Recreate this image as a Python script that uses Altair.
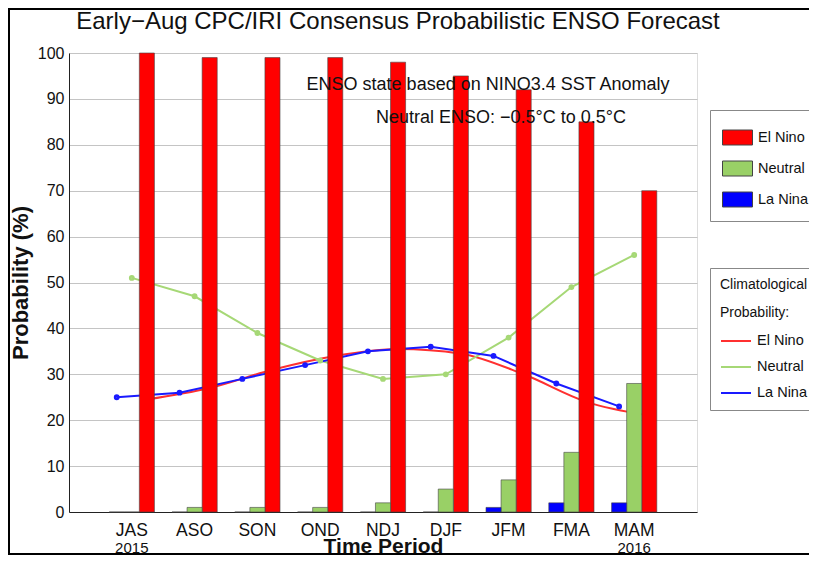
import altair as alt
import pandas as pd

# ---- data ----
periods = ["JAS", "ASO", "SON", "OND", "NDJ", "DJF", "JFM", "FMA", "MAM"]
series = ["El Nino", "Neutral", "La Nina"]
offset_order = ["La Nina", "Neutral", "El Nino"]

el_nino = [100, 99, 99, 99, 98, 95, 92, 85, 70]
neutral = [0, 1, 1, 1, 2, 5, 7, 13, 28]
la_nina = [0, 0, 0, 0, 0, 0, 1, 2, 2]

clim_el_nino = [24.5, 27, 31, 34, 35.5, 34.5, 30, 24, 21]
clim_neutral = [51, 47, 39, 33, 29, 30, 38, 49, 56]
clim_la_nina = [25, 26, 29, 32, 35, 36, 34, 28, 23]

year_periods = ["JAS", "MAM"]
year_labels = ["2015", "2016"]

title_text = "Early\u2212Aug CPC/IRI Consensus Probabilistic ENSO Forecast"
note_texts = ["ENSO state based on NINO3.4 SST Anomaly", "Neutral ENSO: \u22120.5\u00b0C to 0.5\u00b0C"]

bar_colors = ["#ff0000", "#99d066", "#0000ff"]
line_colors = ["#ff3030", "#a6d876", "#1a1aff"]

FONT = "Liberation Sans"

# ---- tables ----
bars = pd.DataFrame(
    [
        {"period": p, "series": s, "value": v}
        for s, vals in zip(series, [el_nino, neutral, la_nina])
        for p, v in zip(periods, vals)
    ]
)
# climatology series names carry a trailing space so their legend stays separate
clim_names = [s + " " for s in series]
lines = pd.DataFrame(
    [
        {"period": p, "series": s, "clim": c, "value": v, "idx": i}
        for s, c, vals in zip(series, clim_names, [clim_el_nino, clim_neutral, clim_la_nina])
        for i, (p, v) in enumerate(zip(periods, vals))
    ]
)
years = pd.DataFrame({"period": year_periods, "label": year_labels})

W, H = 628, 459

x_enc = alt.X(
    "period:N",
    scale=alt.Scale(domain=periods, paddingInner=0.28, paddingOuter=0.64),
    axis=alt.Axis(
        title="Time Period",
        labelAngle=0,
        ticks=False,
        labelPadding=9,
        labelFontSize=17.5,
        labelColor="#111",
        titleFontSize=21,
        titleFontWeight="bold",
        titleColor="#111",
        titlePadding=-3,
        domainColor="#222",
        grid=False,
        labelFont=FONT,
        titleFont=FONT,
    ),
)
xoff_enc = alt.XOffset(
    "series:N", scale=alt.Scale(domain=offset_order, paddingInner=0, paddingOuter=0)
)
y_enc = alt.Y(
    "value:Q",
    scale=alt.Scale(domain=[0, 100], nice=False),
    axis=alt.Axis(
        title="Probability (%)",
        values=list(range(0, 101, 10)),
        ticks=False,
        labelPadding=5,
        labelFontSize=16,
        labelColor="#111",
        titleFontSize=22,
        titleFontWeight="bold",
        titleColor="#111",
        titlePadding=5,
        gridColor="#c4c4c4",
        gridWidth=1.2,
        domainColor="#222",
        labelFont=FONT,
        titleFont=FONT,
    ),
)

stroke_enc = alt.Stroke(
    "clim:N",
    scale=alt.Scale(domain=clim_names, range=line_colors),
    legend=alt.Legend(
        title=["Climatological", "Probability:"],
        orient="none",
        legendX=641,
        legendY=215,
        padding=10,
        strokeColor="#888",
        fillColor="white",
        symbolType="stroke",
        symbolSize=900,
        symbolStrokeWidth=2,
        labelFontSize=14.5,
        labelFont=FONT,
        labelColor="#111",
        titleFont=FONT,
        titleColor="#111",
        titleFontSize=14,
        titleFontWeight="normal",
        titleLineHeight=28,
        titlePadding=5,
        rowPadding=3,
        labelOffset=5,
    ),
)

red_line = (
    alt.Chart(lines)
    .transform_filter(alt.datum.series == "El Nino")
    .mark_line(strokeWidth=2, interpolate="monotone")
    .encode(x=x_enc, xOffset=xoff_enc, y=y_enc, stroke=stroke_enc, order="idx:Q")
)
other_lines = (
    alt.Chart(lines)
    .transform_filter(alt.datum.series != "El Nino")
    .mark_line(strokeWidth=2)
    .encode(x=x_enc, xOffset=xoff_enc, y=y_enc, stroke=stroke_enc, order="idx:Q")
)
point_layer = (
    alt.Chart(lines)
    .transform_filter(alt.datum.series != "El Nino")
    .mark_point(filled=False, size=7, strokeWidth=3.2, opacity=1)
    .encode(x=x_enc, xOffset=xoff_enc, y=y_enc, stroke=stroke_enc)
)

bar_layer = (
    alt.Chart(bars)
    .mark_bar(stroke="#444", strokeWidth=0.6)
    .encode(
        x=x_enc,
        xOffset=xoff_enc,
        y=y_enc,
        fill=alt.Fill(
            "series:N",
            scale=alt.Scale(domain=series, range=bar_colors),
            legend=alt.Legend(
                title=None,
                orient="none",
                legendX=641,
                legendY=57,
                padding=12,
                strokeColor="#888",
                fillColor="white",
                symbolType="M -1 -0.5 L 1 -0.5 L 1 0.5 L -1 0.5 Z",
                symbolSize=900,
                symbolStrokeColor="#444",
                symbolStrokeWidth=1,
                symbolOpacity=1,
                labelFontSize=14.5,
                labelFont=FONT,
                labelColor="#111",
                rowPadding=6,
                labelOffset=5,
            ),
        ),
    )
)

year_layer = (
    alt.Chart(years)
    .mark_text(fontSize=15, font=FONT, color="#111", baseline="middle")
    .encode(x=alt.X("period:N"), y=alt.value(H + 35.5), text="label:N")
)

note_df = pd.DataFrame({"t": note_texts, "px": [419, 432], "py": [32, 65]})
note_layer = (
    alt.Chart(note_df)
    .mark_text(fontSize=18, font=FONT, color="#111", align="center", baseline="middle")
    .encode(x=alt.X("px:Q", scale=None), y=alt.Y("py:Q", scale=None), text="t:N")
)

title_df = pd.DataFrame({"t": [title_text], "px": [329], "py": [-31]})
title_layer = (
    alt.Chart(title_df)
    .mark_text(fontSize=24, font=FONT, color="#111", align="center", baseline="middle")
    .encode(x=alt.X("px:Q", scale=None), y=alt.Y("py:Q", scale=None), text="t:N")
)

frame_layer = (
    alt.Chart(pd.DataFrame({"a": [0]}))
    .mark_rect(fill=None, stroke="black", strokeWidth=2)
    .encode(x=alt.value(-60), x2=alt.value(800), y=alt.value(-44), y2=alt.value(501))
)

chart = (
    alt.layer(
        red_line, other_lines, point_layer, bar_layer, year_layer, note_layer, title_layer, frame_layer
    )
    .resolve_scale(x="shared")
    .properties(
        width=W,
        height=H,
        padding={"left": 61, "top": 45, "right": 112, "bottom": 43},
        autosize=alt.AutoSizeParams(type="none"),
    )
    .configure_view(stroke="#666", strokeWidth=1)
    .configure(background="white")
)

chart.save("out.html", embed_options={"renderer": "svg", "actions": False})
